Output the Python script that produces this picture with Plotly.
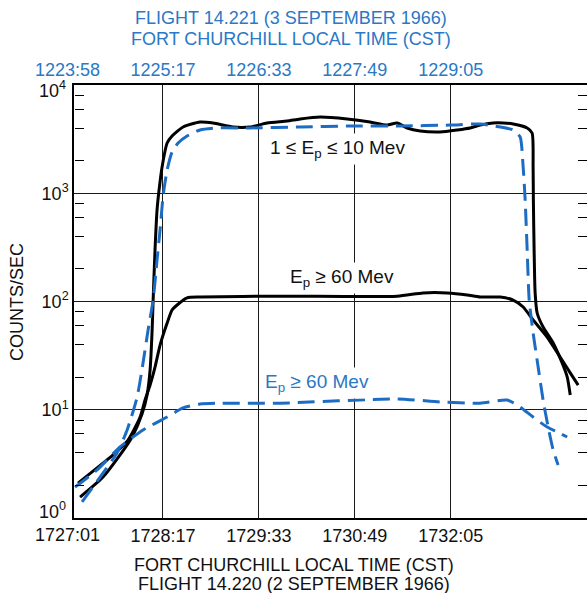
import plotly.graph_objects as go

# ---------------- data (time in seconds after 1727:01, counts/sec) ----------------
# Flight 14.220, 1 <= Ep <= 10 MeV (black solid)
t_b10 = [10.3, 28.5, 42.0, 51.5, 59.4, 63.4, 65.8, 67.4, 68.2, 69.7, 71.3, 72.9, 75.3, 79.3, 83.2,
         91.9, 105.4, 115.7, 131.6, 145.0, 158.5, 174.4, 184.7, 200.5, 221.9, 240.1, 253.6, 261.5,
         269.5, 279.8, 295.6, 309.1, 319.4, 327.3, 337.6, 345.5, 353.5, 364.6, 368.5, 369.3, 369.5,
         370.1, 370.9, 372.5, 377.2, 385.2, 392.3, 396.3, 398.7]
n_b10 = [1.56, 2.39, 3.82, 5.60, 9.14, 13.7, 23.3, 54.6, 103, 299, 700, 1072, 1749, 2911, 3380,
         4093, 4550, 4455, 4093, 4093, 4455, 4650, 4853, 5060, 4853, 4550, 4262, 4455,
         4009, 3757, 3679, 3839, 4009, 4262, 4455, 4455, 4363, 4009, 3603, 1749, 866,
         299, 120, 78.3, 58.1, 41.4, 27.0, 20.1, 13.7]

# Flight 14.220, Ep >= 60 MeV (black solid)
t_b60 = [8.7, 23.8, 36.5, 48.3, 57.9, 61.8, 65.8, 69.7, 73.7, 79.3, 83.2, 87.2, 95.1, 105.4,
         168.8, 261.5, 282.1, 301.2, 317.0, 327.3, 343.2, 353.5, 361.4, 369.3, 380.4, 390.7,
         398.7, 405.0]
n_b60 = [2.10, 2.90, 3.82, 5.25, 8.57, 12.3, 16.9, 24.8, 39.6, 63.3, 83.5, 92.8, 108, 110,
         112, 112, 120, 120, 115, 110, 110, 103, 89, 67.5, 47.0, 30.7,
         21.9, 16.9]

# Flight 14.221, 1 <= Ep <= 10 MeV (blue dashed)
t_u10 = [11.9, 26.2, 39.6, 47.6, 55.5, 60.2, 64.2, 68.2, 71.3, 73.7, 76.1, 79.3, 83.2, 88.0,
         95.1, 105.4, 118.9, 145.0, 184.7, 224.3, 263.9, 303.5, 327.3, 343.2, 353.5, 359.0,
         361.4, 363.0, 364.6, 366.2, 369.3, 373.3, 377.2, 381.2, 385.2, 389.1]
n_u10 = [1.41, 2.39, 3.99, 6.50, 13.1, 27.0, 54.6, 103, 242, 458, 944, 1641, 2405, 2911,
         3380, 3839, 4009, 4009, 4093, 4180, 4180, 4262, 4363, 4093, 3839, 3311,
         1749, 866, 299, 103, 51.2, 24.8, 12.3, 6.93, 4.25, 3.09]

# Flight 14.221, Ep >= 60 MeV (blue dashed)
t_u60 = [6.3, 23.8, 42.0, 60.2, 79.3, 91.9, 105.4, 118.9, 168.8, 261.5, 295.6, 327.3, 348.7,
         359.0, 369.3, 380.4, 388.3, 396.3]
n_u60 = [1.93, 2.78, 4.53, 6.50, 8.57, 10.4, 11.3, 11.5, 11.5, 12.6, 11.8, 11.5, 12.3,
         10.6, 8.57, 6.93, 6.23, 5.60]

# ticks
tick_s = [0, 76, 152, 228, 304]
bottom_labels = ["1727:01", "1728:17", "1729:33", "1730:49", "1732:05"]
top_labels = ["1223:58", "1225:17", "1226:33", "1227:49", "1229:05"]
y_major = [1, 10, 100, 1000, 10000]
y_major_text = ["10<sup>0</sup>", "10<sup>1</sup>", "10<sup>2</sup>", "10<sup>3</sup>", "10<sup>4</sup>"]
y_minor = [m * d for d in (1, 10, 100, 1000) for m in (2, 4, 6, 8)]

BLUE_LINE = "#1d6cc4"
BLUE_TEXT = "#2a78c6"
FONT = "Liberation Sans, Arial, Helvetica, sans-serif"

# ---------------- figure ----------------
W, H = 587, 593
L, R, T, B = 74, 0, 85, 75
PW, PH = W - L - R, H - T - B


def px_x(px):
    return (px - L) / PW


def px_y(py):
    return (H - B - py) / PH


fig = go.Figure()
line_kw = dict(shape="spline", smoothing=0.6)
fig.add_trace(go.Scatter(x=t_b10, y=n_b10, mode="lines",
                         line=dict(color="black", width=3, **line_kw), showlegend=False))
fig.add_trace(go.Scatter(x=t_b60, y=n_b60, mode="lines",
                         line=dict(color="black", width=3, **line_kw), showlegend=False))
fig.add_trace(go.Scatter(x=t_u10, y=n_u10, mode="lines",
                         line=dict(color=BLUE_LINE, width=3, dash="17px,8px", **line_kw),
                         showlegend=False))
fig.add_trace(go.Scatter(x=t_u60, y=n_u60, mode="lines",
                         line=dict(color=BLUE_LINE, width=3, dash="17px,8px", **line_kw),
                         showlegend=False))
# helper traces so overlay axes render
fig.add_trace(go.Scatter(x=[tick_s[1]], y=[y_major[1]], xaxis="x2", yaxis="y", mode="none",
                         showlegend=False, hoverinfo="skip"))
fig.add_trace(go.Scatter(x=[tick_s[1]], y=[y_major[1]], xaxis="x", yaxis="y2", mode="none",
                         showlegend=False, hoverinfo="skip"))
fig.add_trace(go.Scatter(x=[tick_s[1]], y=[y_major[1]], xaxis="x", yaxis="y3", mode="none",
                         showlegend=False, hoverinfo="skip"))

xr = [5.5, 412]
yr = [0, 4]
minor_common = dict(type="log", range=yr, overlaying="y", side="right", tickmode="array",
                    tickvals=y_minor, ticklen=9, tickwidth=1.3, tickcolor="black",
                    showticklabels=False, showgrid=False, showline=False, zeroline=False,
                    automargin=False)
fig.update_layout(
    width=W, height=H,
    margin=dict(l=L, r=R, t=T, b=B, pad=0, autoexpand=False),
    paper_bgcolor="white", plot_bgcolor="white",
    font=dict(family=FONT, size=18, color="black"),
    xaxis=dict(range=xr, tickmode="array", tickvals=tick_s[1:], ticktext=bottom_labels[1:],
               showgrid=True, gridcolor="#1a1a1a", gridwidth=1.2, automargin=False,
               showline=True, linecolor="black", linewidth=1.5, mirror=True,
               ticks="outside", ticklen=1, tickcolor="rgba(0,0,0,0)",
               tickfont=dict(size=18, color="#111"), zeroline=False),
    xaxis2=dict(range=xr, overlaying="x", side="top", anchor="y", tickmode="array",
                tickvals=tick_s[1:], ticktext=top_labels[1:], showgrid=False, showline=False,
                ticks="outside", ticklen=1, tickcolor="rgba(0,0,0,0)", automargin=False,
                tickfont=dict(size=18, color=BLUE_TEXT), zeroline=False),
    yaxis=dict(type="log", range=yr, tickmode="array", tickvals=y_major[1:4],
               ticktext=y_major_text[1:4], showgrid=True, gridcolor="#1a1a1a", gridwidth=1.2,
               showline=True, linecolor="black", linewidth=1.5, ticks="", automargin=False,
               tickfont=dict(size=18, color="#111"), zeroline=False),
    # right-edge minor ticks, pointing into the plot
    yaxis2=dict(anchor="x", ticks="inside", **minor_common),
    # left-edge minor ticks: a right-side axis placed at the left edge, ticks pointing right
    yaxis3=dict(anchor="free", position=0, ticks="outside", **minor_common),
)

ann = []
# end tick labels (nudged inside the frame as in the original)
ann.append(dict(text=bottom_labels[0], xref="paper", yref="paper", x=px_x(67), y=px_y(535),
                showarrow=False, xanchor="center", yanchor="middle",
                font=dict(size=18, color="#111")))
ann.append(dict(text=top_labels[0], xref="paper", yref="paper", x=px_x(67), y=px_y(70),
                showarrow=False, xanchor="center", yanchor="middle",
                font=dict(size=18, color=BLUE_TEXT)))
ann.append(dict(text=y_major_text[4], xref="paper", yref="paper", x=px_x(68), y=px_y(90),
                showarrow=False, xanchor="right", yanchor="middle",
                font=dict(size=18, color="#111")))
ann.append(dict(text=y_major_text[0], xref="paper", yref="paper", x=px_x(68), y=px_y(510),
                showarrow=False, xanchor="right", yanchor="middle",
                font=dict(size=18, color="#111")))
# titles
for txt, cx, cy, col in [
    ("FLIGHT 14.221 (3 SEPTEMBER 1966)", 291, 18, BLUE_TEXT),
    ("FORT CHURCHILL LOCAL TIME (CST)", 291, 39, BLUE_TEXT),
    ("FORT CHURCHILL LOCAL TIME (CST)", 294, 565, "#111"),
    ("FLIGHT 14.220 (2 SEPTEMBER 1966)", 294, 584, "#111"),
]:
    ann.append(dict(text=txt, xref="paper", yref="paper", x=px_x(cx), y=px_y(cy),
                    showarrow=False, xanchor="center", yanchor="middle",
                    font=dict(size=18, color=col)))
# y-axis title
ann.append(dict(text="COUNTS/SEC", xref="paper", yref="paper", x=px_x(17), y=px_y(302),
                showarrow=False, xanchor="center", yanchor="middle", textangle=-90,
                font=dict(size=18, color="#111")))
# curve labels
for txt, sx, ly, col in [
    ("1 ≤ E<sub>p</sub> ≤ 10 Mev", 214, 3.41, "#111"),
    ("E<sub>p</sub> ≥ 60 Mev", 218, 2.22, "#111"),
    ("E<sub>p</sub> ≥ 60 Mev", 198, 1.25, BLUE_TEXT),
]:
    ann.append(dict(text=txt, xref="x", yref="y", x=sx, y=ly, showarrow=False,
                    xanchor="center", yanchor="middle", bgcolor="white", borderpad=3,
                    font=dict(size=19, color=col)))
fig.update_layout(annotations=ann)

fig.write_html("out.html", config={"displayModeBar": False},
               post_script="document.body.style.margin='0px';")
